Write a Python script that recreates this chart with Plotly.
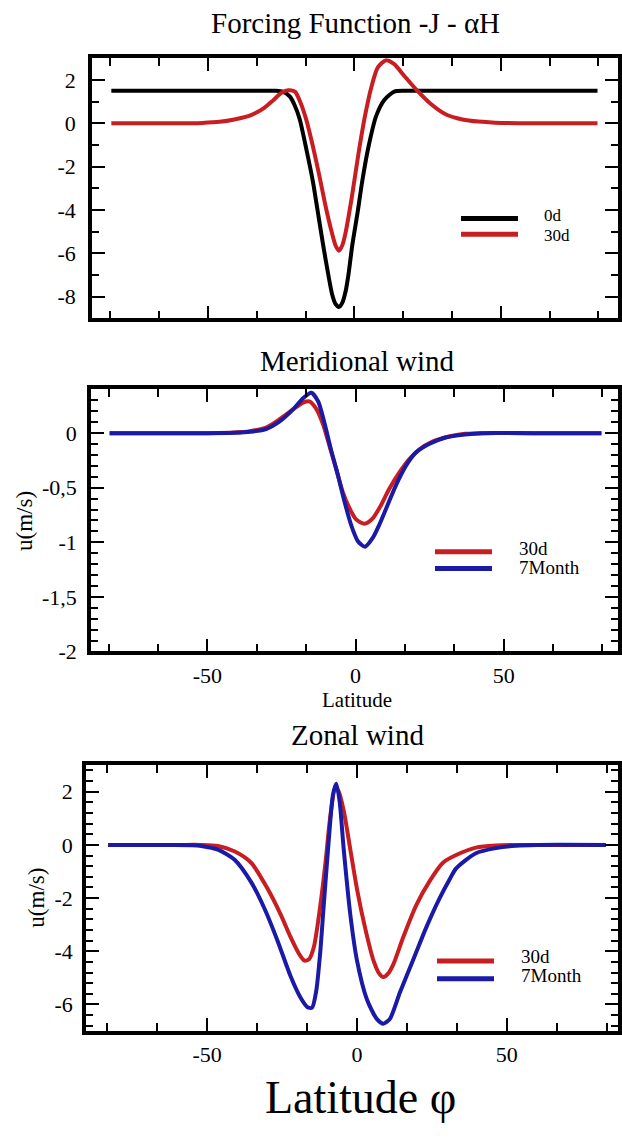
import plotly.graph_objects as go

W, H = 622, 1138

# ---------------- data ----------------
# Panel 1: Forcing Function -J - alphaH
lat_force_0d = [-83, -60, -40, -30, -27, -24.5, -22, -20.3, -18.7, -16.4, -14.2, -12.6, -10.7, -8.9,
                -7.6, -6.4, -5.3, -4.2, -3.0, -2.0, -0.7, 1.1, 2.7, 4.7, 7.4, 10.2, 13.6, 17, 20, 40, 60, 83]
force_0d = [1.5, 1.5, 1.5, 1.5, 1.5, 1.46, 1.23, 0.8, 0.2, -1.2, -2.67, -4.0, -5.6, -7.0,
            -7.9, -8.35, -8.48, -8.3, -7.75, -6.95, -5.6, -4.1, -2.65, -1.15, 0.33, 1.08, 1.46, 1.5, 1.5, 1.5, 1.5, 1.5]

lat_force_30d = [-83, -60, -52, -46, -41, -35.3, -30.9, -27.6, -24.8, -22.6, -20.3, -18.7, -16.4, -14.2,
                 -12, -9.8, -7.6, -6.4, -5.3, -4.2, -3.1, -0.9, 1.3, 3.6, 5.8, 8, 10.8, 13.6, 16.9, 21.3, 25.8,
                 31.3, 36.9, 42.4, 48, 60, 83]
force_30d = [0, 0, 0.02, 0.07, 0.18, 0.38, 0.7, 1.08, 1.42, 1.53, 1.46, 1.05, 0.15, -1.05,
             -2.4, -3.85, -5.1, -5.65, -5.88, -5.65, -5.1, -3.42, -1.47, 0.33, 1.68, 2.58, 2.91, 2.73, 2.21, 1.53, 0.93,
             0.41, 0.18, 0.08, 0.03, 0, 0]

# Panel 2: Meridional wind
lat_mer_30d = [-83, -50, -41, -35.6, -30, -25.5, -21, -17.7, -15.4, -13.2, -11, -8.7, -6.5, -4.3, -2.0,
               0.2, 3.0, 5.8, 8.6, 11.4, 14.8, 18.1, 21.5, 25.8, 31.5, 37, 42.6, 60, 83]
mer_30d = [0, 0, 0.005, 0.018, 0.054, 0.13, 0.22, 0.28, 0.29, 0.22, 0.083, -0.125, -0.33, -0.54, -0.69,
           -0.79, -0.83, -0.78, -0.66, -0.51, -0.36, -0.24, -0.15, -0.08, -0.03, -0.006, 0, 0, 0]

lat_mer_7m = [-83, -50, -41, -35.6, -30, -25.5, -21, -17.7, -14.9, -12.6, -10.4, -8.2, -5.9, -3.7, -1.5,
              0.8, 3.2, 5.8, 8.0, 10.8, 13.6, 17, 20.3, 24.8, 30.4, 37, 42.6, 60, 83]
mer_7m = [0, 0, 0.004, 0.012, 0.04, 0.11, 0.22, 0.32, 0.37, 0.29, 0.083, -0.16, -0.39, -0.63, -0.84,
          -0.99, -1.04, -0.96, -0.84, -0.66, -0.48, -0.30, -0.18, -0.10, -0.04, -0.012, 0, 0, 0]

# Panel 3: Zonal wind
lat_zon_30d = [-83, -60, -52, -46.4, -40.9, -35.3, -29.8, -25.4, -22.1, -19.3, -17.5, -16.0, -14.4, -12.2, -10.5,
               -8.8, -7.2, -6.1, -4.4, -2.2, 0, 2.7, 5.5, 7.5, 8.8, 10.3, 12.1, 15.4, 19.8, 24.3, 28.7, 33.1,
               39.7, 46.4, 55, 83]
zon_30d = [0, 0, 0, -0.04, -0.24, -0.67, -1.65, -2.63, -3.48, -4.1, -4.35, -4.3, -3.85, -2.26, -0.67,
           1.16, 2.14, 2.01, 1.28, -0.18, -1.65, -3.11, -4.34, -4.85, -4.97, -4.85, -4.5, -3.48, -2.26, -1.35, -0.67, -0.38,
           -0.1, -0.02, 0, 0]

lat_zon_7m = [-83, -62, -55, -51.9, -46.4, -40.9, -35.3, -30.9, -26.5, -22.1, -18.8, -16.5, -15.0, -13.6, -12.3, -11.1,
              -9.4, -8.0, -6.9, -5.8, -4.4, -2.2, 0, 3.3, 6.6, 8.8, 11.0, 14.3, 18.7, 23.1, 27.6, 30.9,
              33.1, 39.7, 46.4, 53, 60, 83]
zon_7m = [0, 0, -0.01, -0.04, -0.18, -0.55, -1.4, -2.38, -3.6, -4.95, -5.75, -6.1, -6.12, -5.5, -4.1, -2.3,
          0.18, 1.89, 2.3, 1.65, -0.18, -2.63, -4.34, -5.8, -6.54, -6.72, -6.54, -5.56, -4.34, -3.11, -2.0, -1.3,
          -0.88, -0.31, -0.12, -0.03, 0, 0]

titles = ["Forcing Function -J - \u03b1H", "Meridional wind", "Zonal wind"]
y_title = "u(m/s)"
x_title_mid = "Latitude"
x_title_bottom = "Latitude \u03c6"
legend_top = ["0d", "30d"]
legend_wind = ["30d", "7Month"]

lat_ticks = [-50, 0, 50]
lat_ticktext = ["-50", "0", "50"]
force_ticks = [2, 0, -2, -4, -6, -8]
force_ticktext = ["2", "0", "-2", "-4", "-6", "-8"]
mer_ticks = [0, -0.5, -1, -1.5, -2]
mer_ticktext = ["0", "-0,5", "-1", "-1,5", "-2"]
zon_ticks = [2, 0, -2, -4, -6]
zon_ticktext = ["2", "0", "-2", "-4", "-6"]

BLACK = "black"
RED = "#c81e22"
BLUE = "#1a1aa6"
FONT = "Liberation Serif, Times New Roman, DejaVu Serif, serif"


def X(px):
    return px / W


def Y(py):
    return 1 - py / H


fig = go.Figure()

line_style = dict(width=4, shape="spline", smoothing=0.7)

fig.add_trace(go.Scatter(x=lat_force_0d, y=force_0d, mode="lines", line=dict(color=BLACK, **line_style),
                         name=legend_top[0], xaxis="x", yaxis="y", showlegend=False))
fig.add_trace(go.Scatter(x=lat_force_30d, y=force_30d, mode="lines", line=dict(color=RED, **line_style),
                         name=legend_top[1], xaxis="x", yaxis="y", showlegend=False))
fig.add_trace(go.Scatter(x=lat_mer_30d, y=mer_30d, mode="lines", line=dict(color=RED, **line_style),
                         name=legend_wind[0], xaxis="x2", yaxis="y2", showlegend=False))
fig.add_trace(go.Scatter(x=lat_mer_7m, y=mer_7m, mode="lines", line=dict(color=BLUE, **line_style),
                         name=legend_wind[1], xaxis="x2", yaxis="y2", showlegend=False))
fig.add_trace(go.Scatter(x=lat_zon_30d, y=zon_30d, mode="lines", line=dict(color=RED, **line_style),
                         name=legend_wind[0], xaxis="x3", yaxis="y3", showlegend=False))
fig.add_trace(go.Scatter(x=lat_zon_7m, y=zon_7m, mode="lines", line=dict(color=BLUE, **line_style),
                         name=legend_wind[1], xaxis="x3", yaxis="y3", showlegend=False))

common = dict(showline=True, linewidth=3.5, linecolor="black", mirror="allticks", ticks="inside",
              ticklen=13, tickwidth=1.5, tickcolor="black", showgrid=False, zeroline=False,
              tickmode="array", tickfont=dict(family=FONT, size=22, color="black"))


def minor(dt, ln):
    return dict(tickmode="linear", dtick=dt, tick0=0, ticks="inside", ticklen=ln, tickwidth=1.5,
                tickcolor="black", showgrid=False)


def xaxis(dom, rng, anchor, labels):
    return dict(domain=[X(dom[0]), X(dom[1])], range=rng, anchor=anchor,
                tickvals=lat_ticks, ticktext=lat_ticktext,
                showticklabels=labels, ticklabelstandoff=1,
                minor=minor(50 / 3, 8), **common)


def yaxis(dom, rng, anchor, tv, tt, mdtick, standoff):
    return dict(domain=[Y(dom[1]), Y(dom[0])], range=rng, anchor=anchor,
                tickvals=tv, ticktext=tt, ticklabelstandoff=standoff,
                minor=minor(mdtick, 7), **common)


fig.update_layout(
    width=W, height=H, autosize=False,
    margin=dict(l=0, r=0, t=0, b=0),
    paper_bgcolor="white", plot_bgcolor="white",
    font=dict(family=FONT, color="black"),
    showlegend=False,
    xaxis=xaxis((92, 618), [-89.6, 90], "y", False),
    yaxis=yaxis((59, 322), [-9, 3], "x", force_ticks, force_ticktext, 1, 8),
    xaxis2=xaxis((91, 618), [-89.3, 88.6], "y2", True),
    yaxis2=yaxis((394, 659), [-2, 0.4], "x2", mer_ticks, mer_ticktext, 0.1, 6),
    xaxis3=xaxis((86, 618), [-90.4, 87.1], "y3", True),
    yaxis3=yaxis((774, 1043), [-7, 3], "x3", zon_ticks, zon_ticktext, 0.4, 5),
)

ann = []
# panel titles
ann.append(dict(text=titles[0], x=X(355), y=Y(23), font=dict(size=29)))
ann.append(dict(text=titles[1], x=X(357), y=Y(365), font=dict(size=29)))
ann.append(dict(text=titles[2], x=X(357), y=Y(743), font=dict(size=29)))
# axis titles
ann.append(dict(text=x_title_mid, x=X(357), y=Y(708), font=dict(size=21)))
ann.append(dict(text=x_title_bottom, x=X(360), y=Y(1110), font=dict(size=46)))
ann.append(dict(text=y_title, x=X(25), y=Y(527), textangle=-90, font=dict(size=23)))
ann.append(dict(text=y_title, x=X(37), y=Y(908), textangle=-90, font=dict(size=23)))

# legends (text)
leg = [
    (legend_top[0], 542, 218, 17), (legend_top[1], 542, 238, 17),
    (legend_wind[0], 517, 555, 19), (legend_wind[1], 517, 574, 19),
    (legend_wind[0], 519, 968, 19), (legend_wind[1], 519, 987, 19),
]
for t, px, py, fs in leg:
    ann.append(dict(text=t, x=X(px), y=Y(py), xanchor="left", font=dict(size=fs)))

for a in ann:
    a.setdefault("xanchor", "center")
    a.update(xref="paper", yref="paper", yanchor="middle", showarrow=False)
    a["font"] = dict(family=FONT, color="black", **a["font"])
fig.update_layout(annotations=ann)

# legend line samples
samples = [
    (461, 518, 221, BLACK), (461, 518, 237, RED),
    (435, 492, 558, RED), (435, 492, 575, BLUE),
    (437, 494, 972, RED), (437, 494, 990, BLUE),
]
shapes = []
for x0, x1, yy, c in samples:
    shapes.append(dict(type="line", xref="paper", yref="paper", x0=X(x0), x1=X(x1), y0=Y(yy), y1=Y(yy),
                       line=dict(color=c, width=5)))
fig.update_layout(shapes=shapes)

# remove the default 8px page margin so the 622x1138 figure fills the window exactly
fig.write_html("out.html", config={"displayModeBar": False},
               post_script="document.body.style.margin='0';document.body.style.overflow='hidden';")
